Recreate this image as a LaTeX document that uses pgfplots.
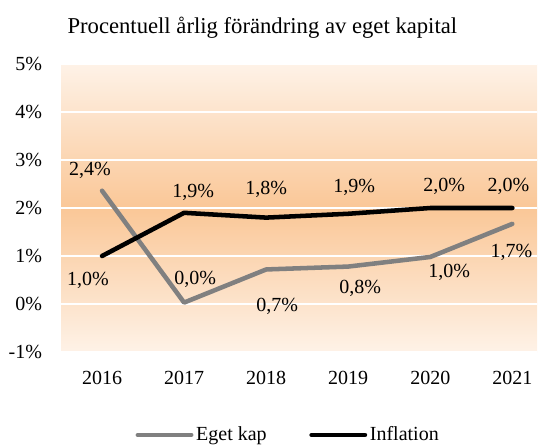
\documentclass[border=0pt]{standalone}
\usepackage{fontspec}
\setmainfont{Liberation Serif}
\usepackage{pgfplots}
\pgfplotsset{compat=1.18}
\usepackage{pgfplotstable}

\definecolor{egetgray}{HTML}{808080}
\definecolor{bgtop}{HTML}{FEF2E7}
\definecolor{bgmid}{HTML}{FAC797}
\definecolor{bgbot}{HTML}{FEF2E7}

% x = year index (0 = 2016), dx/dy = label offset in px
\pgfplotstableread{
x y dx dy
0 2.36 -12 22
1 0.03 11 25
2 0.72 11 -35
3 0.78 12 -20
4 0.98 19 -14
5 1.67 -1 -27
}\eget

\pgfplotstableread{
x y dx dy
0 1.00 -14 -22
1 1.90 9 22
2 1.80 0 30
3 1.88 6 28
4 2.00 14 24
5 2.00 -4 24
}\inflation

\begin{document}
\begin{tikzpicture}
\path[use as bounding box] (-45.75pt,-71.25pt) rectangle (357.75pt,264pt);
\begin{axis}[
    at={(0pt,0pt)}, anchor=south west,
    scale only axis, width=357pt, height=216pt,
    xmin=-0.5, xmax=5.3, ymin=-1, ymax=5,
    xtick={0,1,2,3,4,5},
    xticklabels={2016,2017,2018,2019,2020,2021},
    ytick={-1,0,1,2,3,4,5},
    yticklabels={-1\%,0\%,1\%,2\%,3\%,4\%,5\%},
    axis line style={draw=none},
    major tick length=0pt,
    ymajorgrids,
    grid style={white, line width=0.8pt},
    axis background/.style={top color=bgtop, bottom color=bgbot, middle color=bgmid},
    tick label style={font=\fontsize{15}{18}\selectfont, inner sep=0pt},
    y tick label style={anchor=east, xshift=-14pt},
    x tick label style={anchor=base, yshift=-24pt},
    nodes near coords={\pgfmathprintnumber[fixed, fixed zerofill, precision=1, use comma, assume math mode=true]{\pgfplotspointmeta}\%},
    point meta=y,
    visualization depends on={\thisrow{dx}\as\dx},
    visualization depends on={\thisrow{dy}\as\dy},
    nodes near coords style={anchor=base, inner sep=0pt, text=black,
        font=\fontsize{15}{18}\selectfont,
        xshift={\dx*0.75pt}, yshift={(\dy-7)*0.75pt}},
    legend columns=2,
    legend style={draw=none, fill=none, at={(0.478,-0.288)}, anchor=center,
        font=\fontsize{15}{18}\selectfont,
        /tikz/every even column/.append style={column sep=30pt}},
    legend image code/.code={\draw[#1, line cap=round] (0pt,0pt) -- (40pt,0pt);},
]
\addplot[egetgray, line width=3.4pt, line join=round, line cap=round] table[x=x, y=y] {\eget};
\addlegendentry{Eget kap}
\addplot[black, line width=3.4pt, line join=round, line cap=round] table[x=x, y=y] {\inflation};
\addlegendentry{Inflation}
\end{axis}
\node[anchor=base, font=\fontsize{17}{20}\selectfont] at (151pt,239pt) {Procentuell årlig förändring av eget kapital};
\end{tikzpicture}
\end{document}
